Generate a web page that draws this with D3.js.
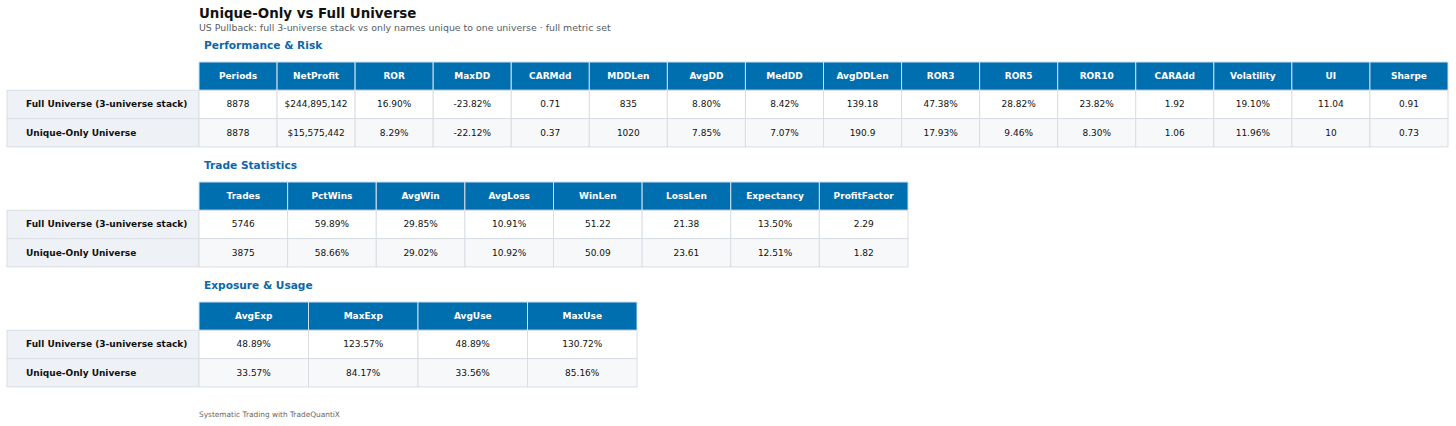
<!DOCTYPE html>
<html>
<head>
<meta charset="utf-8">
<script src="https://cdn.jsdelivr.net/npm/d3@7"></script>
<style>
  body { margin: 0; background: #fff; }
  svg { display: block; font-family: "DejaVu Sans", sans-serif; }
</style>
</head>
<body>
<svg id="chart" width="1456" height="426"></svg>
<script>
const rowNames = ["Full Universe (3-universe stack)", "Unique-Only Universe"];

const perfCols = ["Periods", "NetProfit", "ROR", "MaxDD", "CARMdd", "MDDLen", "AvgDD", "MedDD",
  "AvgDDLen", "ROR3", "ROR5", "ROR10", "CARAdd", "Volatility", "UI", "Sharpe"];
const perfFull = ["8878", "$244,895,142", "16.90%", "-23.82%", "0.71", "835", "8.80%", "8.42%",
  "139.18", "47.38%", "28.82%", "23.82%", "1.92", "19.10%", "11.04", "0.91"];
const perfUnique = ["8878", "$15,575,442", "8.29%", "-22.12%", "0.37", "1020", "7.85%", "7.07%",
  "190.9", "17.93%", "9.46%", "8.30%", "1.06", "11.96%", "10", "0.73"];

const tradeCols = ["Trades", "PctWins", "AvgWin", "AvgLoss", "WinLen", "LossLen", "Expectancy", "ProfitFactor"];
const tradeFull = ["5746", "59.89%", "29.85%", "10.91%", "51.22", "21.38", "13.50%", "2.29"];
const tradeUnique = ["3875", "58.66%", "29.02%", "10.92%", "50.09", "23.61", "12.51%", "1.82"];

const expCols = ["AvgExp", "MaxExp", "AvgUse", "MaxUse"];
const expFull = ["48.89%", "123.57%", "48.89%", "130.72%"];
const expUnique = ["33.57%", "84.17%", "33.56%", "85.16%"];

const svg = d3.select("#chart");

const headBlue = "#006fb0";
const grid = "#d9dee5";
const labelBg = "#eef1f6";
const altBg = "#f7f8fa";

svg.append("text")
  .attr("x", 199).attr("y", 18)
  .attr("font-size", 13.4).attr("font-weight", "bold").attr("fill", "#111")
  .text("Unique-Only vs Full Universe");

svg.append("text")
  .attr("x", 199).attr("y", 31)
  .attr("font-size", 9.4).attr("fill", "#555c66")
  .text("US Pullback: full 3-universe stack vs only names unique to one universe \u00b7 full metric set");

svg.append("text")
  .attr("x", 199).attr("y", 417)
  .attr("font-size", 7.4).attr("fill", "#666")
  .text("Systematic Trading with TradeQuantiX");

function drawTable(title, cols, rows, top, right) {
  const g = svg.append("g");
  const tableLeft = 199;
  const labelLeft = 7;
  const rowH = 28.3;

  g.append("text")
    .attr("x", 204).attr("y", top - 13)
    .attr("font-size", 10.6).attr("font-weight", "bold").attr("fill", "#0b68ab")
    .text(title);

  const x = d3.scaleBand().domain(cols).range([tableLeft, right]);
  const y = d3.scaleBand().domain(["head"].concat(rowNames)).range([top, top + rowH * 3]);

  // header
  g.selectAll(".hd").data(cols).enter().append("rect")
    .attr("x", d => x(d)).attr("y", y("head"))
    .attr("width", x.bandwidth()).attr("height", y.bandwidth())
    .attr("fill", headBlue).attr("stroke", "#cfe0ee").attr("stroke-width", 1);
  g.selectAll(".ht").data(cols).enter().append("text")
    .attr("x", d => x(d) + x.bandwidth() / 2).attr("y", y("head") + y.bandwidth() / 2)
    .attr("text-anchor", "middle").attr("dominant-baseline", "central")
    .attr("font-size", 9).attr("font-weight", "bold").attr("fill", "#fff")
    .text(d => d);

  rows.forEach((vals, i) => {
    const name = rowNames[i];
    g.append("rect")
      .attr("x", labelLeft).attr("y", y(name))
      .attr("width", tableLeft - labelLeft).attr("height", y.bandwidth())
      .attr("fill", labelBg).attr("stroke", grid);
    g.append("text")
      .attr("x", 26).attr("y", y(name) + y.bandwidth() / 2)
      .attr("dominant-baseline", "central")
      .attr("font-size", 9).attr("font-weight", "bold").attr("fill", "#111")
      .text(name);

    g.selectAll(".c" + i).data(cols).enter().append("rect")
      .attr("x", d => x(d)).attr("y", y(name))
      .attr("width", x.bandwidth()).attr("height", y.bandwidth())
      .attr("fill", i === 0 ? "#fff" : altBg).attr("stroke", grid);
    g.selectAll(".t" + i).data(vals).enter().append("text")
      .attr("x", (d, j) => x(cols[j]) + x.bandwidth() / 2)
      .attr("y", y(name) + y.bandwidth() / 2)
      .attr("text-anchor", "middle").attr("dominant-baseline", "central")
      .attr("font-size", 9).attr("fill", "#111")
      .text(d => d);
  });
}

drawTable("Performance & Risk", perfCols, [perfFull, perfUnique], 62, 1448);
drawTable("Trade Statistics", tradeCols, [tradeFull, tradeUnique], 182, 908);
drawTable("Exposure & Usage", expCols, [expFull, expUnique], 302, 637);
</script>
</body>
</html>
